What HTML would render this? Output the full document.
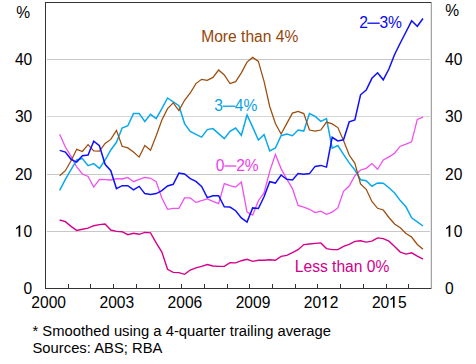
<!DOCTYPE html>
<html><head><meta charset="utf-8"><style>
html,body{margin:0;padding:0;background:#fff;}
body{width:476px;height:364px;overflow:hidden;position:relative;font-family:"Liberation Sans",sans-serif;}
svg{position:absolute;left:0;top:0;}
</style></head><body>
<svg width="476" height="364" viewBox="0 0 476 364" style="font-family:'Liberation Sans',sans-serif">
<line x1="47" y1="231.5" x2="431" y2="231.5" stroke="#c8c8c8" stroke-width="1"/>
<line x1="47" y1="174.5" x2="431" y2="174.5" stroke="#c8c8c8" stroke-width="1"/>
<line x1="47" y1="116.5" x2="431" y2="116.5" stroke="#d6d6d6" stroke-width="1"/>
<line x1="47" y1="59.5" x2="431" y2="59.5" stroke="#c8c8c8" stroke-width="1"/>
<line x1="45.5" y1="2" x2="45.5" y2="289" stroke="#333" stroke-width="1"/>
<line x1="45" y1="288.5" x2="432" y2="288.5" stroke="#333" stroke-width="1"/>
<line x1="45" y1="2.5" x2="432" y2="2.5" stroke="#333" stroke-width="1"/>
<line x1="430.5" y1="3" x2="430.5" y2="288" stroke="#e6e6e6" stroke-width="1"/>
<line x1="431.5" y1="2" x2="431.5" y2="289" stroke="#a4a4a4" stroke-width="1"/>
<line x1="68.5" y1="284" x2="68.5" y2="288" stroke="#333" stroke-width="1"/>
<line x1="90.5" y1="284" x2="90.5" y2="288" stroke="#333" stroke-width="1"/>
<line x1="113.5" y1="284" x2="113.5" y2="288" stroke="#333" stroke-width="1"/>
<line x1="136.5" y1="284" x2="136.5" y2="288" stroke="#333" stroke-width="1"/>
<line x1="159.5" y1="284" x2="159.5" y2="288" stroke="#333" stroke-width="1"/>
<line x1="181.5" y1="284" x2="181.5" y2="288" stroke="#333" stroke-width="1"/>
<line x1="204.5" y1="284" x2="204.5" y2="288" stroke="#333" stroke-width="1"/>
<line x1="227.5" y1="284" x2="227.5" y2="288" stroke="#333" stroke-width="1"/>
<line x1="249.5" y1="284" x2="249.5" y2="288" stroke="#333" stroke-width="1"/>
<line x1="272.5" y1="284" x2="272.5" y2="288" stroke="#333" stroke-width="1"/>
<line x1="295.5" y1="284" x2="295.5" y2="288" stroke="#333" stroke-width="1"/>
<line x1="317.5" y1="284" x2="317.5" y2="288" stroke="#333" stroke-width="1"/>
<line x1="340.5" y1="284" x2="340.5" y2="288" stroke="#333" stroke-width="1"/>
<line x1="363.5" y1="284" x2="363.5" y2="288" stroke="#333" stroke-width="1"/>
<line x1="386.5" y1="284" x2="386.5" y2="288" stroke="#333" stroke-width="1"/>
<line x1="408.5" y1="284" x2="408.5" y2="288" stroke="#333" stroke-width="1"/>
<polyline fill="none" stroke="#f050f0" stroke-width="1.3" stroke-linejoin="miter" stroke-miterlimit="3" points="59.69,134.30 65.37,147.00 71.04,156.40 76.72,167.00 82.40,174.00 88.07,176.40 93.75,187.10 99.43,179.30 105.10,179.70 110.78,180.00 116.46,178.60 122.13,179.00 127.81,177.40 133.49,181.70 139.16,179.30 144.84,177.40 150.52,178.30 156.19,181.70 161.87,198.00 167.54,209.30 173.22,208.30 178.90,208.30 184.57,197.90 190.25,197.90 195.93,202.40 201.60,200.70 207.28,199.00 212.96,201.40 218.63,203.60 224.31,183.60 229.99,185.70 235.66,187.10 241.34,182.10 247.02,212.00 252.69,215.00 258.37,200.70 264.05,193.00 269.72,171.40 275.40,154.30 281.07,168.60 286.75,179.00 292.43,188.60 298.10,205.40 303.78,207.10 309.46,209.30 315.13,212.60 320.81,211.10 326.49,214.30 332.16,212.10 337.84,207.90 343.52,191.40 349.19,186.00 354.87,175.70 360.55,170.00 366.22,168.30 371.90,163.60 377.58,169.30 383.25,160.00 388.93,156.90 394.60,153.20 400.28,146.20 405.96,144.10 411.63,141.80 417.31,119.40 422.99,117.10"/>
<polyline fill="none" stroke="#0aa8ec" stroke-width="1.5" stroke-linejoin="miter" stroke-miterlimit="3" points="59.69,190.40 65.37,179.30 71.04,169.70 76.72,160.00 82.40,158.60 88.07,165.70 93.75,163.60 99.43,168.30 105.10,160.00 110.78,150.00 116.46,142.30 122.13,128.00 127.81,125.70 133.49,113.60 139.16,113.60 144.84,121.40 150.52,114.30 156.19,118.60 161.87,108.60 167.54,98.00 173.22,101.80 178.90,105.70 184.57,123.60 190.25,131.40 195.93,134.30 201.60,137.10 207.28,129.60 212.96,128.60 218.63,133.60 224.31,138.60 229.99,131.40 235.66,128.10 241.34,135.30 247.02,115.00 252.69,127.10 258.37,140.00 264.05,134.60 269.72,151.00 275.40,148.00 281.07,135.70 286.75,134.00 292.43,135.70 298.10,130.00 303.78,131.10 309.46,113.60 315.13,116.40 320.81,121.30 326.49,118.50 332.16,148.20 337.84,145.50 343.52,154.30 349.19,162.90 354.87,170.00 360.55,179.70 366.22,180.70 371.90,186.20 377.58,182.90 383.25,183.20 388.93,187.70 394.60,193.00 400.28,200.60 405.96,206.80 411.63,217.80 417.31,221.90 422.99,226.00"/>
<polyline fill="none" stroke="#9c4c0c" stroke-width="1.25" stroke-linejoin="miter" stroke-miterlimit="3" points="59.69,175.70 65.37,170.70 71.04,160.70 76.72,149.30 82.40,151.50 88.07,144.60 93.75,150.80 99.43,151.20 105.10,143.50 110.78,139.40 116.46,130.40 122.13,146.30 127.81,147.90 133.49,152.10 139.16,157.10 144.84,145.40 150.52,150.20 156.19,135.70 161.87,120.00 167.54,108.60 173.22,102.90 178.90,110.60 184.57,100.30 190.25,93.00 195.93,83.60 201.60,79.30 207.28,80.30 212.96,77.40 218.63,70.00 224.31,75.00 229.99,83.60 235.66,81.70 241.34,72.90 247.02,62.10 252.69,57.40 258.37,61.40 264.05,81.40 269.72,106.50 275.40,123.50 281.07,134.00 286.75,123.60 292.43,113.10 298.10,111.40 303.78,113.60 309.46,130.00 315.13,131.10 320.81,130.00 326.49,122.10 332.16,123.90 337.84,127.60 343.52,140.50 349.19,155.00 354.87,163.30 360.55,184.00 366.22,189.30 371.90,201.40 377.58,208.30 383.25,210.00 388.93,217.50 394.60,224.00 400.28,227.70 405.96,233.50 411.63,237.00 417.31,244.50 422.99,249.30"/>
<polyline fill="none" stroke="#d4008e" stroke-width="1.4" stroke-linejoin="miter" stroke-miterlimit="3" points="59.69,220.00 65.37,221.70 71.04,226.40 76.72,230.40 82.40,229.30 88.07,228.10 93.75,225.70 99.43,224.60 105.10,224.00 110.78,230.00 116.46,231.40 122.13,231.70 127.81,234.70 133.49,233.30 139.16,234.30 144.84,232.40 150.52,232.90 156.19,242.90 161.87,252.10 167.54,269.30 173.22,272.40 178.90,272.60 184.57,274.30 190.25,270.00 195.93,267.90 201.60,266.40 207.28,264.60 212.96,266.00 218.63,266.40 224.31,266.40 229.99,262.60 235.66,262.90 241.34,260.70 247.02,259.30 252.69,261.40 258.37,260.30 264.05,260.30 269.72,259.70 275.40,260.30 281.07,256.40 286.75,255.40 292.43,252.60 298.10,249.70 303.78,244.60 309.46,244.00 315.13,243.40 320.81,242.90 326.49,248.60 332.16,249.60 337.84,249.60 343.52,246.40 349.19,244.30 354.87,241.40 360.55,240.70 366.22,242.10 371.90,241.10 377.58,237.90 383.25,238.60 388.93,241.20 394.60,246.50 400.28,252.10 405.96,254.10 411.63,252.80 417.31,256.20 422.99,259.20"/>
<polyline fill="none" stroke="#1010fa" stroke-width="1.5" stroke-linejoin="miter" stroke-miterlimit="3" points="59.69,150.40 65.37,152.10 71.04,159.30 76.72,162.10 82.40,155.70 88.07,155.00 93.75,141.10 99.43,145.70 105.10,164.30 110.78,170.70 116.46,188.60 122.13,185.70 127.81,185.70 133.49,189.80 139.16,186.40 144.84,193.60 150.52,194.60 156.19,193.60 161.87,190.70 167.54,186.00 173.22,184.30 178.90,173.10 184.57,174.00 190.25,178.60 195.93,181.40 201.60,186.40 207.28,197.60 212.96,195.70 218.63,195.70 224.31,206.80 229.99,207.10 235.66,210.70 241.34,217.90 247.02,222.10 252.69,207.90 258.37,208.50 264.05,196.80 269.72,181.70 275.40,183.10 281.07,175.00 286.75,179.30 292.43,180.00 298.10,173.60 303.78,174.30 309.46,173.60 315.13,166.40 320.81,165.40 326.49,167.10 332.16,137.30 337.84,141.00 343.52,139.80 349.19,121.90 354.87,119.90 360.55,94.80 366.22,90.00 371.90,78.30 377.58,72.80 383.25,79.80 388.93,69.00 394.60,54.50 400.28,43.00 405.96,32.00 411.63,20.80 417.31,26.30 422.99,18.50"/>
<text transform="translate(23.62,293.80) scale(1,1.08)" font-size="15.6" fill="#000" text-anchor="start">0</text>
<text transform="translate(14.95,236.80) scale(1,1.08)" font-size="15.6" fill="#000" text-anchor="start"> 0</text>
<path transform="translate(14.95,236.80) scale(0.00762,-0.00823)" d="M700 0H480V1120Q420 1065 330 1010Q240 955 156 925V1100Q300 1170 405 1266Q510 1362 560 1409H700Z" fill="#000"/>
<text transform="translate(14.95,179.80) scale(1,1.08)" font-size="15.6" fill="#000" text-anchor="start">20</text>
<text transform="translate(14.95,122.05) scale(1,1.08)" font-size="15.6" fill="#000" text-anchor="start">30</text>
<text transform="translate(14.95,64.80) scale(1,1.08)" font-size="15.6" fill="#000" text-anchor="start">40</text>
<text transform="translate(30.20,17.80) scale(1,1.05)" font-size="15.6" fill="#000" text-anchor="end">%</text>
<text transform="translate(445.00,293.80) scale(1,1.08)" font-size="15.6" fill="#000" text-anchor="start">0</text>
<text transform="translate(445.00,236.80) scale(1,1.08)" font-size="15.6" fill="#000" text-anchor="start"> 0</text>
<path transform="translate(445.00,236.80) scale(0.00762,-0.00823)" d="M700 0H480V1120Q420 1065 330 1010Q240 955 156 925V1100Q300 1170 405 1266Q510 1362 560 1409H700Z" fill="#000"/>
<text transform="translate(445.00,179.80) scale(1,1.08)" font-size="15.6" fill="#000" text-anchor="start">20</text>
<text transform="translate(445.00,122.05) scale(1,1.08)" font-size="15.6" fill="#000" text-anchor="start">30</text>
<text transform="translate(445.00,64.80) scale(1,1.08)" font-size="15.6" fill="#000" text-anchor="start">40</text>
<text transform="translate(445.20,15.90) scale(1,1.05)" font-size="15.6" fill="#000" text-anchor="start">%</text>
<text transform="translate(31.35,307.70) scale(1,1.08)" font-size="15.6" fill="#000" text-anchor="start">2000</text>
<text transform="translate(99.47,307.70) scale(1,1.08)" font-size="15.6" fill="#000" text-anchor="start">2003</text>
<text transform="translate(167.58,307.70) scale(1,1.08)" font-size="15.6" fill="#000" text-anchor="start">2006</text>
<text transform="translate(235.70,307.70) scale(1,1.08)" font-size="15.6" fill="#000" text-anchor="start">2009</text>
<text transform="translate(303.82,307.70) scale(1,1.08)" font-size="15.6" fill="#000" text-anchor="start">20 2</text>
<path transform="translate(321.17,307.70) scale(0.00762,-0.00823)" d="M700 0H480V1120Q420 1065 330 1010Q240 955 156 925V1100Q300 1170 405 1266Q510 1362 560 1409H700Z" fill="#000"/>
<text transform="translate(371.94,307.70) scale(1,1.08)" font-size="15.6" fill="#000" text-anchor="start">20 5</text>
<path transform="translate(389.29,307.70) scale(0.00762,-0.00823)" d="M700 0H480V1120Q420 1065 330 1010Q240 955 156 925V1100Q300 1170 405 1266Q510 1362 560 1409H700Z" fill="#000"/>
<text transform="translate(201.20,42.00) scale(1,1.05)" font-size="15.6" fill="#94460a" text-anchor="start">More than 4%</text>
<text transform="translate(294.80,271.60) scale(1,1.05)" font-size="15.6" fill="#d0008a" text-anchor="start">Less than 0%</text>
<text transform="translate(359.20,28.00) scale(1,1.05)" font-size="15.6" fill="#0808f0" text-anchor="start">2</text>
<line x1="367.4" y1="23.2" x2="379.7" y2="23.2" stroke="#0808f0" stroke-width="1.3"/>
<text transform="translate(379.40,28.00) scale(1,1.05)" font-size="15.6" fill="#0808f0" text-anchor="start">3%</text>
<text transform="translate(214.20,110.90) scale(1,1.05)" font-size="15.6" fill="#089fe4" text-anchor="start">3</text>
<line x1="222.8" y1="106.2" x2="235.2" y2="106.2" stroke="#089fe4" stroke-width="1.3"/>
<text transform="translate(234.85,110.90) scale(1,1.05)" font-size="15.6" fill="#089fe4" text-anchor="start">4%</text>
<text transform="translate(215.80,170.50) scale(1,1.05)" font-size="15.6" fill="#ec40ec" text-anchor="start">0</text>
<line x1="224.4" y1="166.0" x2="236.2" y2="166.0" stroke="#ec40ec" stroke-width="1.3"/>
<text transform="translate(236.20,170.50) scale(1,1.05)" font-size="15.6" fill="#ec40ec" text-anchor="start">2%</text>
<text transform="translate(32.50,335.80) scale(1,1.001)" font-size="14.8" fill="#000" text-anchor="start">* Smoothed using a 4-quarter trailing average</text>
<text transform="translate(32.50,352.50) scale(1,1.001)" font-size="14.8" fill="#000" text-anchor="start">Sources: ABS; RBA</text>
</svg>
</body></html>
